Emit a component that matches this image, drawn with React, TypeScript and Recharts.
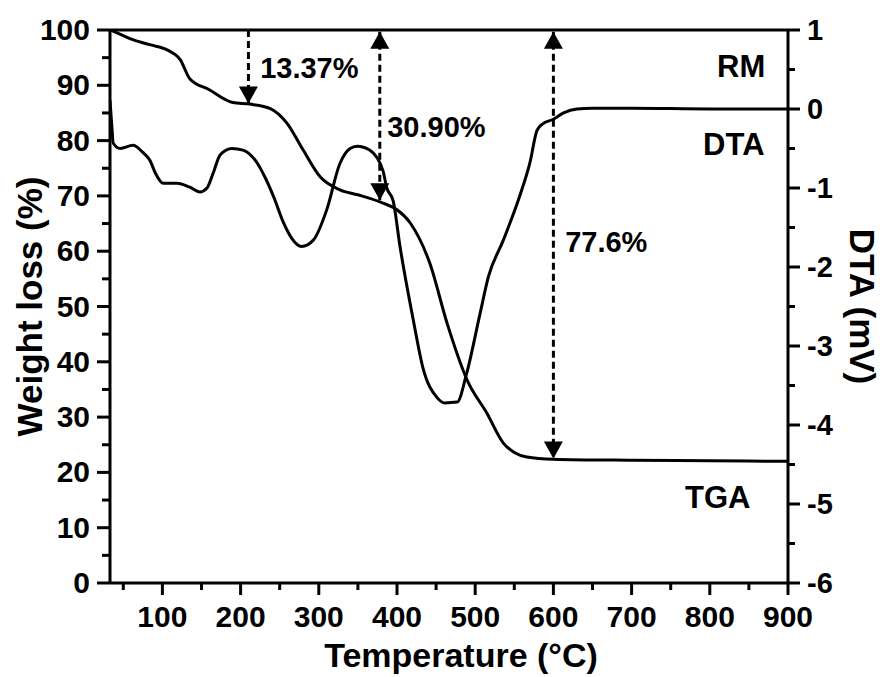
import React from 'react';
import {
  LineChart,
  Line,
  XAxis,
  YAxis,
  ReferenceLine,
  ReferenceDot,
  Label,
} from 'recharts';

// TGA curve (weight %, left axis)
const tgaTemp = [33, 45, 63, 85, 106, 123, 135, 160, 190, 212, 238, 259, 280, 302, 327, 350, 382, 400, 417, 442, 464, 490, 515, 536, 550, 566, 600, 700, 800, 900];
const tgaWeight = [100, 99.3, 98.2, 97.3, 96.4, 94.6, 91.2, 89.2, 86.9, 86.6, 85.8, 83.2, 78.3, 73.4, 71.1, 70.2, 68.7, 67.5, 65.1, 57.8, 47, 36.6, 30.7, 25.3, 23.6, 22.8, 22.4, 22.2, 22.1, 22.0];

// DTA curve (mV, right axis)
const dtaTemp = [33, 35.7, 37, 46, 62.5, 75, 84, 91, 101, 119, 135, 148, 157, 165, 174, 189, 203, 221, 232, 243, 254, 265, 278, 293, 310, 327, 340, 349, 365, 382, 387, 395, 404, 421, 433, 451, 461, 477, 489, 506, 517, 536, 558, 570, 579, 586, 600, 613, 630, 650, 700, 800, 900];
const dtaSignal = [0.11, -0.27, -0.43, -0.5, -0.46, -0.55, -0.65, -0.81, -0.94, -0.94, -0.99, -1.05, -1.0, -0.81, -0.58, -0.5, -0.52, -0.68, -0.88, -1.13, -1.42, -1.63, -1.74, -1.66, -1.28, -0.69, -0.5, -0.47, -0.52, -0.78, -1.0, -1.16, -1.75, -2.68, -3.27, -3.65, -3.72, -3.71, -3.35, -2.6, -2.12, -1.66, -1.07, -0.68, -0.27, -0.19, -0.13, -0.05, 0.0, 0.01, 0.01, 0.0, 0.0];

const tempTicks = [50, 100, 150, 200, 250, 300, 350, 400, 450, 500, 550, 600, 650, 700, 750, 800, 850, 900];
const weightTicks = [0, 5, 10, 15, 20, 25, 30, 35, 40, 45, 50, 55, 60, 65, 70, 75, 80, 85, 90, 95, 100];
const dtaTicks = [-6, -5.5, -5, -4.5, -4, -3.5, -3, -2.5, -2, -1.5, -1, -0.5, 0, 0.5, 1];

// dashed arrows marking the weight loss steps
const arrowTemp = [210, 378, 600];
const arrowFrom = [100, 99.7, 99.7];
const arrowTo = [86.7, 69.2, 22.5];
const arrowHeadUp = [false, true, true];

const noteText = ['13.37%', '30.90%', '77.6%', 'RM', 'DTA', 'TGA'];
const noteTemp = [225, 387.5, 615, 871, 870, 852];
const noteWeight = [91.3, 80.6, 59.8, 91.5, 77.4, 13.5];

const tgaData = tgaTemp.map((t, i) => ({ t, v: tgaWeight[i] }));
const dtaData = dtaTemp.map((t, i) => ({ t, v: dtaSignal[i] }));

const FONT = '"Liberation Sans", Arial, sans-serif';

const BottomTick = (props: any) => {
  const { x, y, payload } = props;
  const major = payload.value % 100 === 0;
  return (
    <g>
      <line x1={x} y1={y} x2={x} y2={y + (major ? 12 : 7)} stroke="#000" strokeWidth={3} />
      {major && (
        <text x={x} y={y + 44} textAnchor="middle" fontSize={30} fontWeight="bold" fontFamily={FONT} fill="#000">
          {payload.value}
        </text>
      )}
    </g>
  );
};

const LeftTick = (props: any) => {
  const { x, y, payload } = props;
  const major = payload.value % 10 === 0;
  return (
    <g>
      <line x1={x} y1={y} x2={x - (major ? 13 : 8)} y2={y} stroke="#000" strokeWidth={3} />
      {major && (
        <text x={x - 20} y={y + 10} textAnchor="end" fontSize={30} fontWeight="bold" fontFamily={FONT} fill="#000">
          {payload.value}
        </text>
      )}
    </g>
  );
};

const RightTick = (props: any) => {
  const { x, y, payload } = props;
  const major = Number.isInteger(payload.value);
  return (
    <g>
      <line x1={x} y1={y} x2={x + (major ? 12 : 7)} y2={y} stroke="#000" strokeWidth={3} />
      {major && (
        <text x={x + 19} y={y + 10} textAnchor="start" fontSize={29} fontWeight="bold" fontFamily={FONT} fill="#000">
          {payload.value}
        </text>
      )}
    </g>
  );
};

const arrowHead = (up: boolean) => (props: any) => {
  const { cx, cy } = props;
  const s = up ? 1 : -1;
  return (
    <path
      d={`M${cx},${cy} L${cx - 9.5},${cy + s * 17} L${cx + 9.5},${cy + s * 17} Z`}
      fill="#000"
    />
  );
};

const noteShape = (text: string) => (props: any) => {
  const { cx, cy } = props;
  const isName = !text.includes('%');
  return (
    <text
      x={cx}
      y={cy}
      textAnchor={isName ? 'end' : 'start'}
      fontSize={isName ? 31 : 29}
      fontWeight="bold"
      fontFamily={FONT}
      fill="#000"
    >
      {text}
    </text>
  );
};

const App: React.FC = () => {
  return (
    <div style={{ position: 'absolute', left: 0, top: 0, background: '#fff' }}>
      <LineChart width={884} height={677} margin={{ top: 30, right: 0, left: 0, bottom: 0 }}>
        <XAxis
          type="number"
          dataKey="t"
          domain={[33, 900]}
          ticks={tempTicks}
          interval={0}
          allowDataOverflow
          height={94}
          tickSize={0}
          tickMargin={0}
          tickLine={false}
          tick={<BottomTick />}
          axisLine={{ stroke: '#000', strokeWidth: 3 }}
        >
          <Label
            content={(p: any) => (
              <text
                x={p.viewBox.x + p.viewBox.width / 2 + 12}
                y={p.viewBox.y + 84}
                textAnchor="middle"
                fontSize={34}
                fontWeight="bold"
                fontFamily={FONT}
                fill="#000"
              >
                Temperature (°C)
              </text>
            )}
          />
        </XAxis>
        <YAxis
          yAxisId="w"
          orientation="left"
          type="number"
          domain={[0, 100]}
          ticks={weightTicks}
          interval={0}
          allowDataOverflow
          width={110}
          tickSize={0}
          tickMargin={0}
          tickLine={false}
          tick={<LeftTick />}
          axisLine={{ stroke: '#000', strokeWidth: 3 }}
        >
          <Label
            content={(p: any) => {
              const cx = 29;
              const cy = p.viewBox.y + p.viewBox.height / 2;
              return (
                <text
                  x={cx}
                  y={cy}
                  transform={`rotate(-90, ${cx}, ${cy})`}
                  textAnchor="middle"
                  dominantBaseline="central"
                  fontSize={35}
                  fontWeight="bold"
                  fontFamily={FONT}
                  fill="#000"
                >
                  Weight loss (%)
                </text>
              );
            }}
          />
        </YAxis>
        <YAxis
          yAxisId="d"
          orientation="right"
          type="number"
          domain={[-6, 1]}
          ticks={dtaTicks}
          interval={0}
          allowDataOverflow
          width={96}
          tickSize={0}
          tickMargin={0}
          tickLine={false}
          tick={<RightTick />}
          axisLine={{ stroke: '#000', strokeWidth: 3 }}
        >
          <Label
            content={(p: any) => {
              const cx = 862;
              const cy = p.viewBox.y + p.viewBox.height / 2;
              return (
                <text
                  x={cx}
                  y={cy}
                  transform={`rotate(90, ${cx}, ${cy})`}
                  textAnchor="middle"
                  dominantBaseline="central"
                  fontSize={35}
                  fontWeight="bold"
                  fontFamily={FONT}
                  fill="#000"
                >
                  DTA (mV)
                </text>
              );
            }}
          />
        </YAxis>

        <ReferenceLine yAxisId="w" y={100} stroke="#000" strokeWidth={3} />

        {arrowTemp.map((t, i) => (
          <ReferenceLine
            key={`a${i}`}
            yAxisId="w"
            segment={[
              { x: t, y: arrowFrom[i] },
              { x: t, y: arrowTo[i] },
            ]}
            stroke="#000"
            strokeWidth={3}
            strokeDasharray="7 4"
          />
        ))}

        <Line
          yAxisId="w"
          data={tgaData}
          dataKey="v"
          type="monotone"
          stroke="#000"
          strokeWidth={3}
          dot={false}
          isAnimationActive={false}
        />
        <Line
          yAxisId="d"
          data={dtaData}
          dataKey="v"
          type="monotone"
          stroke="#000"
          strokeWidth={3}
          dot={false}
          isAnimationActive={false}
        />

        {arrowTemp.map((t, i) => (
          <ReferenceDot
            key={`hd${i}`}
            yAxisId="w"
            x={t}
            y={arrowTo[i]}
            r={0}
            shape={arrowHead(false)}
          />
        ))}
        {arrowTemp.map((t, i) =>
          arrowHeadUp[i] ? (
            <ReferenceDot
              key={`hu${i}`}
              yAxisId="w"
              x={t}
              y={arrowFrom[i]}
              r={0}
              shape={arrowHead(true)}
            />
          ) : null
        )}

        {noteText.map((s, i) => (
          <ReferenceDot
            key={`n${i}`}
            yAxisId="w"
            x={noteTemp[i]}
            y={noteWeight[i]}
            r={0}
            shape={noteShape(s)}
          />
        ))}
      </LineChart>
    </div>
  );
};

export default App;
